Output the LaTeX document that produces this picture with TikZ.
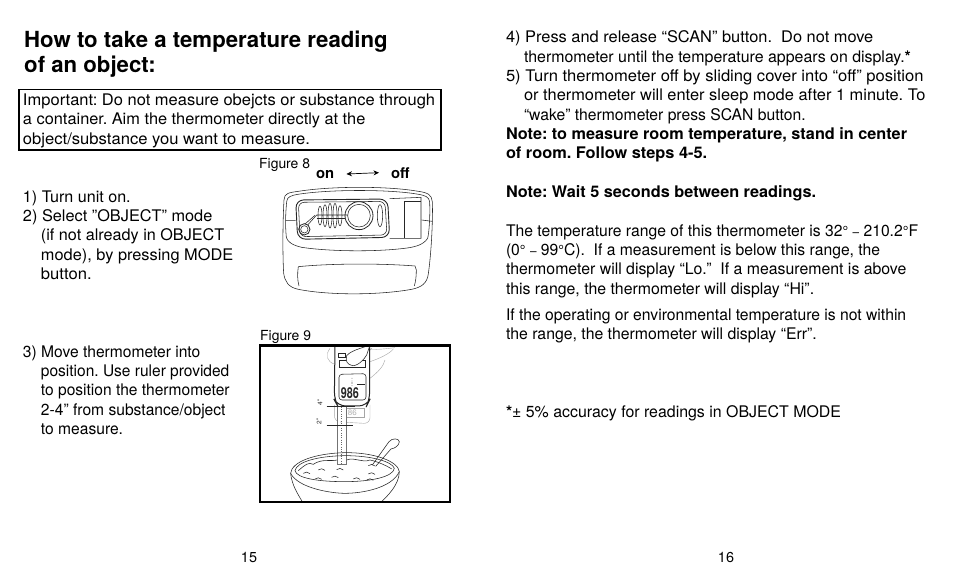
\documentclass[tikz,border=0pt]{standalone}
\usepackage{fontspec}
\usetikzlibrary{arrows.meta}
\setmainfont{TeX Gyre Heros}
\frenchspacing
\newcommand{\fs}[1]{\fontsize{#1}{#1}\selectfont}
\newcommand{\dgr}{{\fs{14.5}°}}
\newcommand{\dsh}{{\fs{12}–}}
\tikzset{
 tx/.style={anchor=base west,inner sep=0pt,outer sep=0pt,font=\fs{16},xscale=#1},
 txb/.style={anchor=base west,inner sep=0pt,outer sep=0pt,font=\fs{16}\bfseries,xscale=#1},
 ttl/.style={anchor=base west,inner sep=0pt,font=\fs{22.2}\bfseries},
 figcap/.style={anchor=base west,inner sep=0pt,font=\fs{13.9}},
 onoff/.style={anchor=base west,inner sep=0pt,font=\fs{14.8}\bfseries},
 pagenum/.style={anchor=base,inner sep=0pt,font=\fs{14.4}},
 figline/.style={line width=0.55pt,black!85},
 figl/.style={line width=0.4pt,black!35},
 boxframe/.style={draw,line width=1.7pt}
}
\begin{document}
\begin{tikzpicture}[x=1pt,y=-1pt]
\useasboundingbox (0,0) rectangle (954,581);
\fill[white] (0,0) rectangle (954,581);
% title
\node[ttl] (t1) at (24,47) {How to take a temperature reading};
\node[ttl] (t2) at (24,72) {of an object:};
% box
\draw[boxframe] (19,89.5) rectangle (441,150);
\node[tx=1.031] (b1) at (23,105) {Important: Do not measure obejcts or substance through};
\node[tx=1.022] (b2) at (23,124) {a container. Aim the thermometer directly at the};
\node[tx=1.038] (b3) at (23,144) {object/substance you want to measure.};
% left steps
\node[tx=1.006] (s1) at (23,202) {1) Turn unit on.};
\node[tx=1.019] (s2) at (23,221) {2) Select ”OBJECT” mode};
\node[tx=1.012] (s2b) at (41,240) {(if not already in OBJECT};
\node[tx=1.022] (s2c) at (41,260) {mode), by pressing MODE};
\node[tx=1.038] (s2d) at (41,279) {button.};
\node[tx=.975] (s3) at (23,357) {3) Move thermometer into};
\node[tx=.969] (s3b) at (41,376) {position. Use ruler provided};
\node[tx=.972] (s3c) at (41,395) {to position the thermometer};
\node[tx=.975] (s3d) at (41,415) {2-4” from substance/object};
\node[tx=.975] (s3e) at (41,434) {to measure.};
% fig captions
\node[figcap] (f8) at (259,168) {Figure 8};
\node[figcap] (f9) at (260,340) {Figure 9};
\node[onoff] (on) at (316,178) {on};
\node[onoff] (off) at (391,178) {off};
\draw[{Stealth[length=5.5pt,width=5pt]}-{Stealth[length=5.5pt,width=5pt]},line width=.7pt] ([xshift=12pt]on.east) -- ([xshift=-12pt]off.west);
% figure 8 device
\begin{scope}[shift={(255,150)},x=.3333pt,y=-.3333pt,figline]
\draw (87,150) .. controls (88,130) and (100,128) .. (130,124) .. controls (230,108) and (400,108) .. (490,124) .. controls (520,128) and (530,135) .. (532,155) .. controls (534,200) and (530,300) .. (520,372) .. controls (516,400) and (500,412) .. (470,418) .. controls (370,436) and (220,436) .. (130,418) .. controls (100,412) and (90,395) .. (86,370) .. controls (82,300) and (84,200) .. (87,150) -- cycle;
\draw (95,155) .. controls (96,140) and (108,136) .. (135,132) .. controls (230,118) and (400,118) .. (485,132) .. controls (510,136) and (522,140) .. (524,155) .. controls (526,200) and (522,250) .. (518,265) .. controls (505,285) and (480,292) .. (440,296) .. controls (350,306) and (220,304) .. (140,292) .. controls (110,285) and (98,275) .. (94,262) .. controls (90,220) and (92,190) .. (95,155) -- cycle;
\draw[line width=.9pt,rounded corners=8pt] (122,150) -- (398,147) -- (404,262) -- (128,268) -- cycle;
\draw[rounded corners=6pt] (130,157) -- (390,154) -- (396,255) -- (135,260) -- cycle;
\draw (404,265) -- (498,265) -- (498,142) -- (404,146);
\draw (447,155) -- (447,265);
\draw (447,155) -- (498,155);
\draw (92,212) -- (122,212) (500,210) -- (532,214);
\draw[line width=.8pt] (312,197) circle (42);
\draw (312,197) circle (34);
\foreach \x/\h in {195/28,210/33,225/37,240/37,255/30}{
 \draw (\x,197) ellipse (6 and \h);
}
\draw (375,197) ellipse (8 and 33);
\draw[line width=.8pt] (148,238) circle (17);
\draw (148,238) circle (11);
\draw (158,225) -- (185,195) -- (278,195);
\draw (150,222) -- (180,196);
\draw (185,205) -- (270,205);
\draw (130,350) .. controls (230,340) and (380,340) .. (480,348) -- (484,360) .. controls (484,380) and (482,395) .. (478,408);
\draw (130,350) .. controls (127,370) and (127,390) .. (132,408);
\end{scope}
% figure 9
\begin{scope}[shift={(255,325)},x=.3333pt,y=-.3333pt,figline]
\begin{scope}
\clip (18,62) rectangle (584,528);
% hand (light)
\draw[figl] (225,70) .. controls (210,90) and (215,110) .. (240,118);
\draw[figl] (345,72) .. controls (370,75) and (400,70) .. (420,68);
\draw[figl] (345,110) .. controls (375,100) and (405,85) .. (415,72);
\draw[figl] (345,160) .. controls (370,140) and (385,125) .. (390,105);
\draw[figl] (280,80) -- (312,66) (320,100) -- (350,70);
% back body (faint)
\draw[figl,rounded corners=6pt] (238,240) -- (238,290) -- (345,296) -- (345,240);
\draw[figl,line width=.7pt] (252,250) rectangle (328,277);
\node[inner sep=0pt,font=\fs{8},text=black!30] (ghost) at (292,263) {86};
% ruler
\draw[fill=white,line width=.45pt,draw=black!55] (246,240) -- (246,418) -- (275,418) -- (275,240);
\draw[dotted,line width=.35pt,black!60] (258,245) -- (258,415);
\fill (258,291) circle (1.3);
% thermometer
\draw[fill=white,line width=1pt,rounded corners=8pt] (240,60) -- (238,225) -- (248,243) -- (335,243) -- (344,225) -- (344,60);
\draw (252,105) rectangle (332,128);
\draw[fill=white,rounded corners=3pt] (252,148) -- (333,146) -- (333,225) -- (252,225) -- cycle;
\draw[fill=white] (275,92) .. controls (290,75) and (320,70) .. (345,60) -- (335,90) .. controls (320,115) and (295,130) .. (282,118) .. controls (272,110) and (272,100) .. (275,92) -- cycle;
\draw (250,85) rectangle (272,98);
\node[inner sep=0pt,font=\fs{15}\bfseries,xscale=.72] (disp) at (285,204) {986};
\fill (291,160) circle (1.2) (291,168) circle (1.2) (291,174) circle (2) (291,182) circle (1.2);
\draw[line width=.9pt] (307,177) -- (330,177);
\draw[line width=.8pt] (215,243) -- (300,243);
\draw[line width=.8pt] (215,300) -- (293,300);
\node[inner sep=0pt,rotate=90,font=\fs{6.5}] (m4) at (195,233) {4”};
\node[inner sep=0pt,rotate=90,font=\fs{6.5}] (m2) at (192,290) {2”};
% spoon
\draw[fill=white] (352,420) -- (402,350) .. controls (412,338) and (432,340) .. (433,350) .. controls (432,362) and (420,370) .. (408,372) -- (362,424);
% bowl
\draw (107,445) .. controls (110,410) and (180,385) .. (270,383) .. controls (360,382) and (430,410) .. (433,440) .. controls (432,480) and (400,510) .. (375,535);
\draw (107,445) .. controls (110,480) and (130,510) .. (145,535);
\draw (120,437) .. controls (125,410) and (190,393) .. (270,392) .. controls (350,392) and (412,410) .. (418,430) .. controls (415,455) and (350,470) .. (270,470) .. controls (190,470) and (125,460) .. (120,437) -- cycle;
\draw (130,437) .. controls (150,420) and (160,410) .. (175,418) .. controls (200,400) and (230,410) .. (246,405);
\draw (275,405) .. controls (300,395) and (320,415) .. (345,405) .. controls (370,410) and (400,425) .. (410,432);
\draw (107,445) .. controls (130,490) and (230,505) .. (270,505) .. controls (320,505) and (410,490) .. (433,440);
\foreach \x/\y in {200/433,255/432,350/420,155/443,350/445,240/455,305/460,345/463,190/460}{
 \draw (\x-10,\y+2) .. controls (\x-3,\y-3) and (\x+3,\y-3) .. (\x+10,\y+3);
}
\end{scope}
\end{scope}
\draw[line width=2.3pt] (260,345.5) rectangle (450,502);
% right column
\node[tx=1.025] (r1) at (506,42) {4) Press and release “SCAN” button.\ \ Do not move};
\node[tx=.995] (r2) at (524,62) {thermometer until the temperature appears on display.\textbf{*}};
\node[tx=1.037] (r3) at (506,81) {5) Turn thermometer off by sliding cover into “off” position};
\node[tx=1.025] (r4) at (524,100) {or thermometer will enter sleep mode after 1 minute. To};
\node[tx=.981] (r5) at (524,120) {“wake” thermometer press SCAN button.};
\node[txb=1.016] (r6) at (506,139) {Note: to measure room temperature, stand in center};
\node[txb=1.022] (r7) at (506,158) {of room. Follow steps 4-5.};
\node[txb=1.016] (r8) at (506,197) {Note: Wait 5 seconds between readings.};
\node[tx=.981] (r9) at (506,236) {The temperature range of this thermometer is 32\dgr{} \dsh{} 210.2\dgr{}F};
\node[tx=.981] (r10) at (506,255) {(0\dgr{} \dsh{} 99\dgr{}C).\ \ If a measurement is below this range, the};
\node[tx=.991] (r11) at (506,274) {thermometer will display “Lo.”\ \ If a measurement is above};
\node[tx=.991] (r12) at (506,294) {this range, the thermometer will display “Hi”.};
\node[tx=.981] (r13) at (506,320) {If the operating or environmental temperature is not within};
\node[tx=.988] (r14) at (506,339) {the range, the thermometer will display “Err”.};
\node[tx=.994] (r15) at (506,417) {\textbf{*}± 5\% accuracy for readings in OBJECT MODE};
% page numbers
\node[pagenum] (p15) at (249,562) {15};
\node[pagenum] (p16) at (726,562) {16};
\end{tikzpicture}
\end{document}
